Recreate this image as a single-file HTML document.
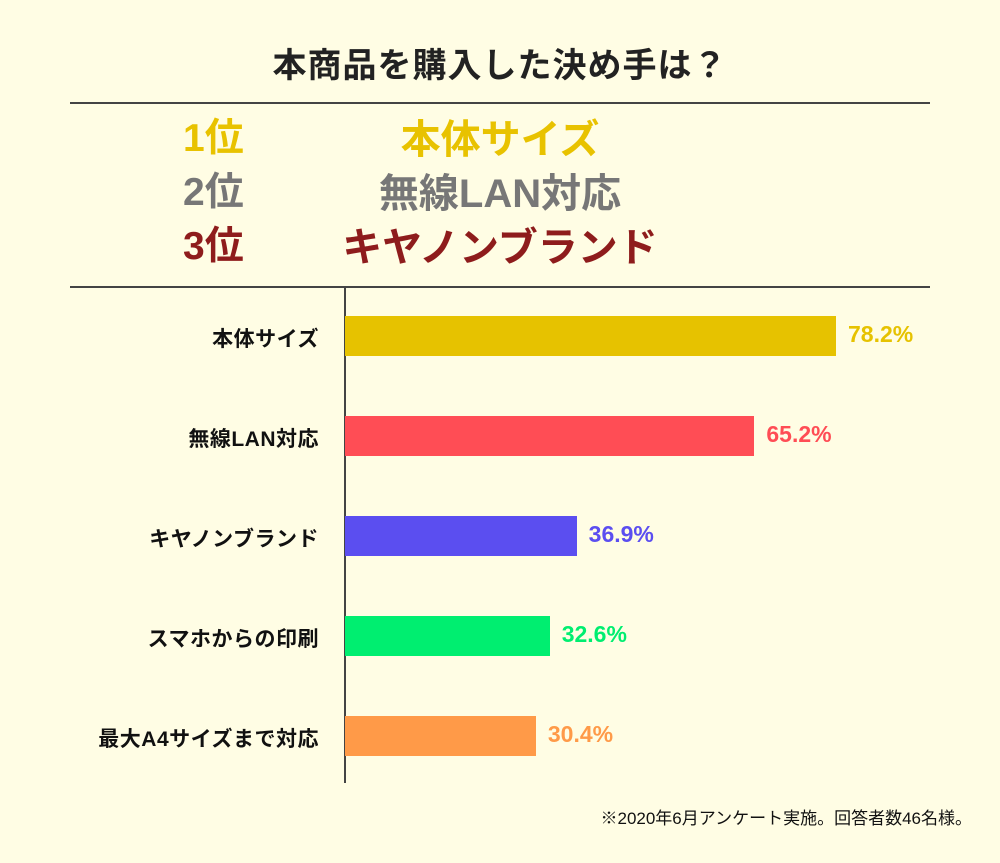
<!DOCTYPE html>
<html><head><meta charset="utf-8"><style>
body{margin:0;background:#fffde4;}
#c{position:relative;width:1000px;height:863px;background:#fffde4;font-family:"Liberation Sans","Noto Sans CJK JP",sans-serif;font-weight:bold;overflow:hidden}
.a{position:absolute;white-space:nowrap}
</style></head><body>
<div id="c">
<div class="a" style="left:0;width:1000px;text-align:center;top:38px;font-size:34px;color:#222;letter-spacing:1px">本商品を購入した決め手は？</div>
<div class="a" style="left:70px;width:860px;top:102px;height:2px;background:#444"></div>
<div class="a" style="left:183px;top:107px;font-size:39px;color:#e8c200">1位</div>
<div class="a" style="left:300px;width:400px;text-align:center;top:107px;font-size:40px;color:#e8c200">本体サイズ</div>
<div class="a" style="left:183px;top:161px;font-size:39px;color:#777">2位</div>
<div class="a" style="left:300px;width:400px;text-align:center;top:161px;font-size:40px;color:#777">無線LAN対応</div>
<div class="a" style="left:183px;top:215px;font-size:39px;color:#8e1c1c">3位</div>
<div class="a" style="left:300px;width:400px;text-align:center;top:215px;font-size:40px;color:#8e1c1c">キヤノンブランド</div>
<div class="a" style="left:70px;width:860px;top:286px;height:2px;background:#444"></div>
<div class="a" style="left:344px;width:2px;top:287px;height:496px;background:#444"></div>
<div class="a" style="right:28px;top:804px;font-size:17px;font-weight:normal;color:#111">※2020年6月アンケート実施。回答者数46名様。</div>
</div>
<script>
const categories=["本体サイズ","無線LAN対応","キヤノンブランド","スマホからの印刷","最大A4サイズまで対応"];
const values=[78.2,65.2,36.9,32.6,30.4];
const labels=["78.2%","65.2%","36.9%","32.6%","30.4%"];
const colors=["#e6c200","#ff4d55","#5b4ef0","#00ee70","#ff9a48"];
const x0=345,pxPer=491/78.2;
function xs(v){return v*pxPer;}
function ys(i){return 316+i*100;}
const c=document.getElementById('c');
categories.forEach((cat,i)=>{
 const y=ys(i),w=xs(values[i]);
 const b=document.createElement('div');
 
 
 b.className='a';b.style.cssText=`left:${x0}px;top:${y}px;width:${w}px;height:40px;background:${colors[i]}`;
 c.appendChild(b);
 const l=document.createElement('div');
 
 
 l.className='a';l.style.cssText=`right:${1000-319}px;top:${y+7}px;font-size:21px;letter-spacing:0.5px;color:#111`;
 l.textContent=cat;c.appendChild(l);
 const v=document.createElement('div');
 
 
 v.className='a';v.style.cssText=`left:${x0+w+12}px;top:${y+5}px;font-size:23px;color:${colors[i]}`;
 v.textContent=labels[i];c.appendChild(v);
});
</script>
</body></html>
